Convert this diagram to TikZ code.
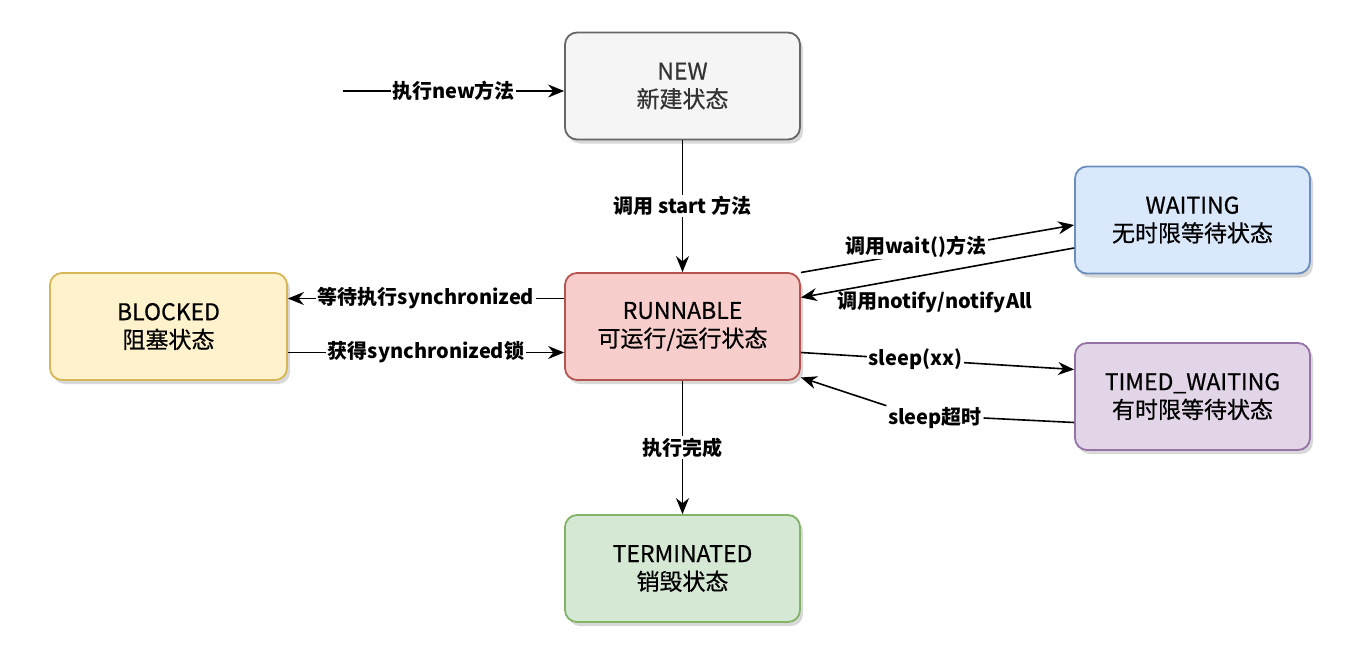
\documentclass[tikz,border=0pt]{standalone}
\usepackage{fontspec}
\setmainfont{Noto Sans CJK SC}
\newfontfamily\boxfont{Noto Sans CJK SC}[FakeBold=0.6]
\usetikzlibrary{arrows.meta,shadows,calc}
\definecolor{newfill}{HTML}{F5F5F5}
\definecolor{newdraw}{HTML}{666666}
\definecolor{newtext}{HTML}{333333}
\definecolor{runfill}{HTML}{F8CECC}
\definecolor{rundraw}{HTML}{B85450}
\definecolor{blkfill}{HTML}{FFF2CC}
\definecolor{blkdraw}{HTML}{D6B656}
\definecolor{waitfill}{HTML}{DAE8FC}
\definecolor{waitdraw}{HTML}{6C8EBF}
\definecolor{twfill}{HTML}{E1D5E7}
\definecolor{twdraw}{HTML}{9673A6}
\definecolor{termfill}{HTML}{D5E8D4}
\definecolor{termdraw}{HTML}{82B366}
\tikzset{
  statebox/.style={rectangle, rounded corners=12pt, line width=1.8pt,
    minimum width=235pt, minimum height=107pt, align=center,
    font=\boxfont\fontsize{23}{28}\selectfont,
    drop shadow={shadow xshift=3pt, shadow yshift=-4pt, fill=black!25, opacity=0.6}},
  conn/.style={line width=1.6pt, -{Stealth[length=16pt,width=13pt]}},
  plainconn/.style={line width=1.6pt},
  lbl/.style={font=\bfseries\fontsize{20}{24}\selectfont, fill=white, inner sep=1.5pt},
  lblnf/.style={font=\bfseries\fontsize{20}{24}\selectfont, inner sep=1.5pt}
}
\begin{document}
\begin{tikzpicture}[x=1pt,y=-1pt]
\useasboundingbox[fill=white] (0,0) rectangle (1370,661);
% states
\node[statebox, fill=newfill, draw=newdraw, text=newtext] (new) at (682.5,86) {NEW\\新建状态};
\node[statebox, fill=runfill, draw=rundraw] (run) at (682.5,326.5) {RUNNABLE\\可运行/运行状态};
\node[statebox, fill=blkfill, draw=blkdraw, minimum width=237pt] (blk) at (168.5,326.5) {BLOCKED\\阻塞状态};
\node[statebox, fill=waitfill, draw=waitdraw] (wait) at (1192.5,220) {WAITING\\无时限等待状态};
\node[statebox, fill=twfill, draw=twdraw] (tw) at (1192.5,396.5) {TIMED\_WAITING\\有时限等待状态};
\node[statebox, fill=termfill, draw=termdraw] (term) at (682.5,568.5) {TERMINATED\\销毁状态};
% initial arrow
\coordinate (init) at (343,91);
\draw[conn] (init) -- node[lbl, pos=0.5] (lnew) {执行new方法} ([yshift=-5pt]new.west);
% new -> runnable
\draw[conn] (new.south) -- node[lbl, pos=0.5] (lstart) {调用 start 方法} (run.north);
% runnable <-> blocked
\draw[conn] ([yshift=28pt]run.west) -- node[lbl, pos=0.5] (lwaitsync) {等待执行synchronized} ([yshift=28pt]blk.east);
\draw[conn] ([yshift=-26pt]blk.east) -- node[lbl, pos=0.5] (lgetsync) {获得synchronized锁} ([yshift=-26pt]run.west);
% runnable <-> waiting
\draw[conn] ([yshift=54pt]run.east) -- node[lbl, pos=0.42, yshift=6pt] (lwait) {调用wait()方法} ([yshift=-5pt]wait.west);
\draw[conn] ([yshift=-28pt]wait.west) -- node[lblnf, pos=0.51, below=16pt] (lnotify) {调用notify/notifyAll} ([yshift=29pt]run.east);
% runnable <-> timed waiting
\draw[conn] ([yshift=-26pt]run.east) -- node[lbl, pos=0.42] (lsleep) {sleep(xx)} ([yshift=27pt]tw.west);
\node[lbl] (ltimeout) at (935,418) {sleep超时};
\draw[plainconn] ([yshift=-26pt]tw.west) -- (ltimeout.east);
\draw[conn] (ltimeout.north west) -- ([yshift=-51pt]run.east);
% runnable -> terminated
\draw[conn] (run.south) -- node[lbl, pos=0.5] (ldone) {执行完成} (term.north);
\end{tikzpicture}
\end{document}
